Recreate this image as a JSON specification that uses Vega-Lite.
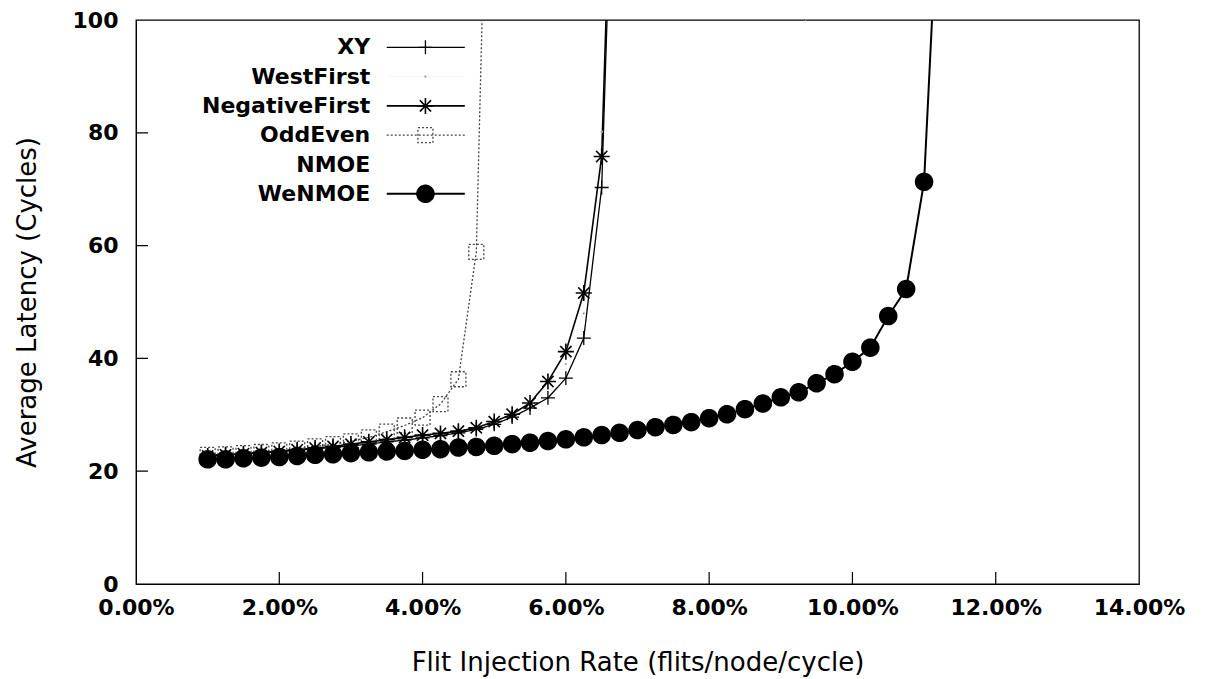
{
  "$schema": "https://vega.github.io/schema/vega-lite/v6.json",
  "width": 1003,
  "height": 564,
  "autosize": {"type": "none"},
  "padding": {"left": 136, "top": 20, "right": 66, "bottom": 95},
  "background": "white",
  "config": {
    "view": {"stroke": "black", "strokeWidth": 1.3},
    "font": "DejaVu Sans",
    "axis": {
      "grid": false,
      "domainColor": "black",
      "ticks": false,
      "tickSize": 0,
      "labelFont": "DejaVu Sans",
      "labelFontWeight": "bold",
      "labelFontSize": 22,
      "labelColor": "black",
      "titleFont": "DejaVu Sans",
      "titleFontWeight": "normal",
      "titleFontSize": 26,
      "titleColor": "black",
      "labelFlush": false,
      "labelOverlap": false
    }
  },
  "resolve": {"scale": {"y": "independent"}, "axis": {"x": "independent", "y": "independent"}},
  "datasets": {
    "latency": [
      {"series": "WestFirst", "rate": 1.0, "latency": 22.7},
      {"series": "WestFirst", "rate": 1.5, "latency": 23.0},
      {"series": "WestFirst", "rate": 2.0, "latency": 23.4},
      {"series": "WestFirst", "rate": 2.5, "latency": 23.9},
      {"series": "WestFirst", "rate": 3.0, "latency": 24.6},
      {"series": "WestFirst", "rate": 3.5, "latency": 25.4},
      {"series": "WestFirst", "rate": 4.0, "latency": 26.2},
      {"series": "WestFirst", "rate": 4.5, "latency": 27.0},
      {"series": "WestFirst", "rate": 5.0, "latency": 28.6},
      {"series": "WestFirst", "rate": 5.5, "latency": 31.8},
      {"series": "WestFirst", "rate": 6.0, "latency": 39.0},
      {"series": "WestFirst", "rate": 6.25, "latency": 48.0},
      {"series": "WestFirst", "rate": 6.5, "latency": 80.2},
      {"series": "WestFirst", "rate": 6.75, "latency": 170},
      {"series": "NMOE", "rate": 1.0, "latency": 22.3},
      {"series": "NMOE", "rate": 1.5, "latency": 22.6},
      {"series": "NMOE", "rate": 2.0, "latency": 22.9},
      {"series": "NMOE", "rate": 2.5, "latency": 23.3},
      {"series": "NMOE", "rate": 3.0, "latency": 23.7},
      {"series": "NMOE", "rate": 3.5, "latency": 24.1},
      {"series": "NMOE", "rate": 4.0, "latency": 24.5},
      {"series": "NMOE", "rate": 4.5, "latency": 25.0},
      {"series": "NMOE", "rate": 5.0, "latency": 25.5},
      {"series": "NMOE", "rate": 5.5, "latency": 26.1},
      {"series": "NMOE", "rate": 6.0, "latency": 26.8},
      {"series": "NMOE", "rate": 6.5, "latency": 27.7},
      {"series": "NMOE", "rate": 7.0, "latency": 28.8},
      {"series": "NMOE", "rate": 7.5, "latency": 30.1},
      {"series": "NMOE", "rate": 8.0, "latency": 32.0},
      {"series": "NMOE", "rate": 8.25, "latency": 33.2},
      {"series": "NMOE", "rate": 8.5, "latency": 35.0},
      {"series": "NMOE", "rate": 8.75, "latency": 38.5},
      {"series": "NMOE", "rate": 9.0, "latency": 45.0},
      {"series": "NMOE", "rate": 9.25, "latency": 70.0},
      {"series": "NMOE", "rate": 9.5, "latency": 150},
      {"series": "OddEven", "rate": 1.0, "latency": 22.9},
      {"series": "OddEven", "rate": 1.25, "latency": 23.0},
      {"series": "OddEven", "rate": 1.5, "latency": 23.2},
      {"series": "OddEven", "rate": 1.75, "latency": 23.4},
      {"series": "OddEven", "rate": 2.0, "latency": 23.7},
      {"series": "OddEven", "rate": 2.25, "latency": 24.0},
      {"series": "OddEven", "rate": 2.5, "latency": 24.4},
      {"series": "OddEven", "rate": 2.75, "latency": 24.8},
      {"series": "OddEven", "rate": 3.0, "latency": 25.3},
      {"series": "OddEven", "rate": 3.25, "latency": 26.0},
      {"series": "OddEven", "rate": 3.5, "latency": 27.0},
      {"series": "OddEven", "rate": 3.75, "latency": 28.1},
      {"series": "OddEven", "rate": 4.0, "latency": 29.5},
      {"series": "OddEven", "rate": 4.25, "latency": 31.9},
      {"series": "OddEven", "rate": 4.5, "latency": 36.3},
      {"series": "OddEven", "rate": 4.75, "latency": 58.9},
      {"series": "OddEven", "rate": 5.0, "latency": 187},
      {"series": "XY", "rate": 1.0, "latency": 22.8},
      {"series": "XY", "rate": 1.25, "latency": 22.9},
      {"series": "XY", "rate": 1.5, "latency": 23.1},
      {"series": "XY", "rate": 1.75, "latency": 23.3},
      {"series": "XY", "rate": 2.0, "latency": 23.5},
      {"series": "XY", "rate": 2.25, "latency": 23.7},
      {"series": "XY", "rate": 2.5, "latency": 24.0},
      {"series": "XY", "rate": 2.75, "latency": 24.2},
      {"series": "XY", "rate": 3.0, "latency": 24.5},
      {"series": "XY", "rate": 3.25, "latency": 24.8},
      {"series": "XY", "rate": 3.5, "latency": 25.2},
      {"series": "XY", "rate": 3.75, "latency": 25.5},
      {"series": "XY", "rate": 4.0, "latency": 25.9},
      {"series": "XY", "rate": 4.25, "latency": 26.3},
      {"series": "XY", "rate": 4.5, "latency": 26.8},
      {"series": "XY", "rate": 4.75, "latency": 27.4},
      {"series": "XY", "rate": 5.0, "latency": 28.3},
      {"series": "XY", "rate": 5.25, "latency": 29.6},
      {"series": "XY", "rate": 5.5, "latency": 31.2},
      {"series": "XY", "rate": 5.75, "latency": 33.0},
      {"series": "XY", "rate": 6.0, "latency": 36.5},
      {"series": "XY", "rate": 6.25, "latency": 43.6},
      {"series": "XY", "rate": 6.5, "latency": 70.3},
      {"series": "XY", "rate": 6.75, "latency": 170},
      {"series": "NegativeFirst", "rate": 1.0, "latency": 22.7},
      {"series": "NegativeFirst", "rate": 1.25, "latency": 22.9},
      {"series": "NegativeFirst", "rate": 1.5, "latency": 23.1},
      {"series": "NegativeFirst", "rate": 1.75, "latency": 23.3},
      {"series": "NegativeFirst", "rate": 2.0, "latency": 23.5},
      {"series": "NegativeFirst", "rate": 2.25, "latency": 23.8},
      {"series": "NegativeFirst", "rate": 2.5, "latency": 24.1},
      {"series": "NegativeFirst", "rate": 2.75, "latency": 24.4},
      {"series": "NegativeFirst", "rate": 3.0, "latency": 24.8},
      {"series": "NegativeFirst", "rate": 3.25, "latency": 25.2},
      {"series": "NegativeFirst", "rate": 3.5, "latency": 25.6},
      {"series": "NegativeFirst", "rate": 3.75, "latency": 26.0},
      {"series": "NegativeFirst", "rate": 4.0, "latency": 26.4},
      {"series": "NegativeFirst", "rate": 4.25, "latency": 26.7},
      {"series": "NegativeFirst", "rate": 4.5, "latency": 27.1},
      {"series": "NegativeFirst", "rate": 4.75, "latency": 27.7},
      {"series": "NegativeFirst", "rate": 5.0, "latency": 28.8},
      {"series": "NegativeFirst", "rate": 5.25, "latency": 30.1},
      {"series": "NegativeFirst", "rate": 5.5, "latency": 32.1},
      {"series": "NegativeFirst", "rate": 5.75, "latency": 35.9},
      {"series": "NegativeFirst", "rate": 6.0, "latency": 41.2},
      {"series": "NegativeFirst", "rate": 6.25, "latency": 51.6},
      {"series": "NegativeFirst", "rate": 6.5, "latency": 75.8},
      {"series": "NegativeFirst", "rate": 6.75, "latency": 176},
      {"series": "WeNMOE", "rate": 1.0, "latency": 22.1},
      {"series": "WeNMOE", "rate": 1.25, "latency": 22.1},
      {"series": "WeNMOE", "rate": 1.5, "latency": 22.3},
      {"series": "WeNMOE", "rate": 1.75, "latency": 22.4},
      {"series": "WeNMOE", "rate": 2.0, "latency": 22.5},
      {"series": "WeNMOE", "rate": 2.25, "latency": 22.7},
      {"series": "WeNMOE", "rate": 2.5, "latency": 22.9},
      {"series": "WeNMOE", "rate": 2.75, "latency": 23.0},
      {"series": "WeNMOE", "rate": 3.0, "latency": 23.2},
      {"series": "WeNMOE", "rate": 3.25, "latency": 23.35},
      {"series": "WeNMOE", "rate": 3.5, "latency": 23.5},
      {"series": "WeNMOE", "rate": 3.75, "latency": 23.6},
      {"series": "WeNMOE", "rate": 4.0, "latency": 23.8},
      {"series": "WeNMOE", "rate": 4.25, "latency": 23.9},
      {"series": "WeNMOE", "rate": 4.5, "latency": 24.2},
      {"series": "WeNMOE", "rate": 4.75, "latency": 24.3},
      {"series": "WeNMOE", "rate": 5.0, "latency": 24.5},
      {"series": "WeNMOE", "rate": 5.25, "latency": 24.8},
      {"series": "WeNMOE", "rate": 5.5, "latency": 25.05},
      {"series": "WeNMOE", "rate": 5.75, "latency": 25.35},
      {"series": "WeNMOE", "rate": 6.0, "latency": 25.65},
      {"series": "WeNMOE", "rate": 6.25, "latency": 26.0},
      {"series": "WeNMOE", "rate": 6.5, "latency": 26.4},
      {"series": "WeNMOE", "rate": 6.75, "latency": 26.8},
      {"series": "WeNMOE", "rate": 7.0, "latency": 27.3},
      {"series": "WeNMOE", "rate": 7.25, "latency": 27.8},
      {"series": "WeNMOE", "rate": 7.5, "latency": 28.2},
      {"series": "WeNMOE", "rate": 7.75, "latency": 28.7},
      {"series": "WeNMOE", "rate": 8.0, "latency": 29.4},
      {"series": "WeNMOE", "rate": 8.25, "latency": 30.1},
      {"series": "WeNMOE", "rate": 8.5, "latency": 31.0},
      {"series": "WeNMOE", "rate": 8.75, "latency": 32.0},
      {"series": "WeNMOE", "rate": 9.0, "latency": 33.1},
      {"series": "WeNMOE", "rate": 9.25, "latency": 34.0},
      {"series": "WeNMOE", "rate": 9.5, "latency": 35.6},
      {"series": "WeNMOE", "rate": 9.75, "latency": 37.2},
      {"series": "WeNMOE", "rate": 10.0, "latency": 39.4},
      {"series": "WeNMOE", "rate": 10.25, "latency": 41.9},
      {"series": "WeNMOE", "rate": 10.5, "latency": 47.5},
      {"series": "WeNMOE", "rate": 10.75, "latency": 52.3},
      {"series": "WeNMOE", "rate": 11.0, "latency": 71.3},
      {"series": "WeNMOE", "rate": 11.25, "latency": 136}
    ],
    "legend": [
      {"series": "XY"},
      {"series": "WestFirst"},
      {"series": "NegativeFirst"},
      {"series": "OddEven"},
      {"series": "NMOE"},
      {"series": "WeNMOE"}
    ],
    "xticks": [
      {"value": 2}, {"value": 4}, {"value": 6}, {"value": 8}, {"value": 10}, {"value": 12}
    ],
    "yticks": [
      {"value": 20}, {"value": 40}, {"value": 60}, {"value": 80}
    ]
  },
  "encoding": {
    "stroke": {
      "field": "series",
      "type": "nominal",
      "scale": {
        "domain": ["XY", "WestFirst", "NegativeFirst", "OddEven", "NMOE", "WeNMOE"],
        "range": ["#000000", "#f2f2f2", "#000000", "#444444", "#ffffff", "#000000"]
      },
      "legend": null
    },
    "strokeDash": {
      "field": "series",
      "type": "nominal",
      "scale": {
        "domain": ["XY", "WestFirst", "NegativeFirst", "OddEven", "NMOE", "WeNMOE"],
        "range": [[1, 0], [1, 0], [1, 0], [2, 2], [1, 0], [1, 0]]
      },
      "legend": null
    },
    "strokeWidth": {
      "field": "series",
      "type": "ordinal",
      "scale": {
        "type": "ordinal",
        "domain": ["XY", "WestFirst", "NegativeFirst", "OddEven", "NMOE", "WeNMOE"],
        "range": [1.3, 0.6, 1.6, 1.3, 0.6, 2.0]
      },
      "legend": null
    }
  },
  "layer": [
    {
      "data": {"name": "latency"},
      "mark": {"type": "line", "clip": true},
      "encoding": {
        "x": {
          "field": "rate",
          "type": "quantitative",
          "scale": {"domain": [0, 14], "nice": false, "zero": false},
          "axis": {
            "orient": "bottom",
            "title": "Flit Injection Rate (flits/node/cycle)",
            "values": [0, 2, 4, 6, 8, 10, 12, 14],
            "labelExpr": "format(datum.value, '.2f') + '%'",
            "labelPadding": 13,
            "titlePadding": 31
          }
        },
        "y": {
          "field": "latency",
          "type": "quantitative",
          "scale": {"domain": [0, 100], "nice": false},
          "axis": {
            "orient": "left",
            "title": "Average Latency (Cycles)",
            "values": [0, 20, 40, 60, 80, 100],
            "labelPadding": 18,
            "titlePadding": 32
          }
        }
      }
    },
    {
      "data": {"name": "xticks"},
      "mark": {"type": "rule"},
      "encoding": {
        "x": {"field": "value", "type": "quantitative", "axis": null},
        "y": {"datum": 0, "type": "quantitative", "scale": {"domain": [0, 100], "nice": false}, "axis": null},
        "y2": {"datum": 2.13},
        "stroke": {"value": "black"},
        "strokeDash": {"value": [1, 0]},
        "strokeWidth": {"value": 1.2}
      }
    },
    {
      "data": {"name": "yticks"},
      "mark": {"type": "rule"},
      "encoding": {
        "y": {"field": "value", "type": "quantitative", "scale": {"domain": [0, 100], "nice": false}, "axis": null},
        "x": {"datum": 0, "type": "quantitative", "axis": null},
        "x2": {"datum": 0.1675},
        "stroke": {"value": "black"},
        "strokeDash": {"value": [1, 0]},
        "strokeWidth": {"value": 1.2}
      }
    },
    {
      "data": {"name": "latency"},
      "mark": {"type": "point", "clip": true, "filled": false, "opacity": 1, "size": 225},
      "encoding": {
        "x": {"field": "rate", "type": "quantitative", "axis": null},
        "y": {
          "field": "latency",
          "type": "quantitative",
          "scale": {"domain": [0, 100], "nice": false},
          "axis": null
        },
        "shape": {
          "field": "series",
          "type": "nominal",
          "scale": {
            "domain": ["XY", "WestFirst", "NegativeFirst", "OddEven", "NMOE", "WeNMOE"],
            "range": [
              "M-0.93,0L0.93,0M0,-0.93L0,0.93",
              "M-0.15,0A0.15,0.15,0,1,0,0.15,0A0.15,0.15,0,1,0,-0.15,0Z",
              "M-1.07,0L1.07,0M0,-1.07L0,1.07M-0.75,-0.75L0.75,0.75M-0.75,0.75L0.75,-0.75",
              "M-1,-1L1,-1L1,1L-1,1Z",
              "M-0.01,0L0.01,0",
              "M-1.1,0A1.1,1.1,0,1,0,1.1,0A1.1,1.1,0,1,0,-1.1,0Z"
            ]
          },
          "legend": null
        },
        "fill": {
          "field": "series",
          "type": "nominal",
          "scale": {
            "domain": ["XY", "WestFirst", "NegativeFirst", "OddEven", "NMOE", "WeNMOE"],
            "range": ["transparent", "#7a7a7a", "transparent", "transparent", "transparent", "#000000"]
          },
          "legend": null
        }
      }
    },
    {
      "data": {"name": "legend"},
      "encoding": {
        "y": {
          "field": "series",
          "type": "nominal",
          "sort": null,
          "scale": {"type": "point", "domain": ["XY", "WestFirst", "NegativeFirst", "OddEven", "NMOE", "WeNMOE"], "range": [27.3, 173.8], "padding": 0},
          "axis": null
        }
      },
      "layer": [
        {
          "mark": {"type": "text", "align": "right", "baseline": "middle", "font": "DejaVu Sans", "fontWeight": "bold", "fontSize": 22, "color": "black"},
          "encoding": {
            "x": {"datum": 3.27, "type": "quantitative", "axis": null},
            "text": {"field": "series"},
            "stroke": {"value": null},
            "strokeWidth": {"value": 0}
          }
        },
        {
          "mark": {"type": "rule"},
          "encoding": {
            "x": {"datum": 3.5, "type": "quantitative", "axis": null},
            "x2": {"datum": 4.59}
          }
        },
        {
          "mark": {"type": "point", "filled": false, "opacity": 1, "size": 225},
          "encoding": {
            "x": {"datum": 4.04, "type": "quantitative", "axis": null},
            "shape": {"field": "series", "type": "nominal", "legend": null},
            "fill": {"field": "series", "type": "nominal", "legend": null}
          }
        }
      ]
    }
  ]
}
